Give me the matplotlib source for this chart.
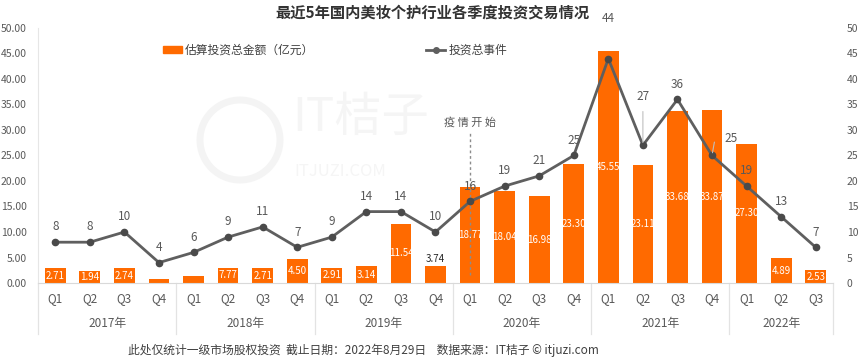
import matplotlib
matplotlib.use("Agg")
import matplotlib.pyplot as plt
from matplotlib.patches import Patch, Ellipse
from matplotlib.lines import Line2D
import matplotlib.transforms as mtransforms

plt.rcParams["font.family"] = ["Noto Sans CJK SC", "DejaVu Sans"]

# data
years = ["2017年", "2018年", "2019年", "2020年", "2021年", "2022年"]
quarters = ["Q1", "Q2", "Q3", "Q4"] * 5 + ["Q1", "Q2", "Q3"]
amount = [2.9, 2.3, 2.9, 0.8, 1.4, 3.0, 2.9, 4.7, 3.0, 3.3, 11.6, 3.3,
          18.8, 18.0, 17.0, 23.3, 45.5, 23.1, 33.7, 33.9, 27.3, 4.9, 2.5]
amount_labels = ["2.71", "1.94", "2.74", "", "", "7.77", "2.71", "4.50", "2.91", "3.14", "11.54", "3.74",
                 "18.77", "18.04", "16.98", "23.30", "45.55", "23.11", "33.68", "33.87", "27.30", "4.89", "2.53"]
events = [8, 8, 10, 4, 6, 9, 11, 7, 9, 14, 14, 10, 16, 19, 21, 25, 44, 27, 36, 25, 19, 13, 7]
year_len = [4, 4, 4, 4, 4, 3]

orange = "#FF6A00"
grey_line = "#5f5f5f"
txt = "#595959"

fig = plt.figure(figsize=(8.65, 3.62), dpi=100)
ax = fig.add_axes([38 / 865, 1 - 283 / 362, 795 / 865, 255 / 362])
ax2 = ax.twinx()

x = list(range(len(amount)))
bars = ax.bar(x, amount, width=0.6, color=orange, zorder=2)
ax.set_xlim(-0.5, len(x) - 0.5)
ax.set_ylim(0, 50)
ax.set_yticks(range(0, 51, 5))
ax.set_yticklabels(["%.2f" % v for v in range(0, 51, 5)])
ax2.set_ylim(0, 50)
ax2.set_yticks(range(0, 51, 5))

for a in (ax, ax2):
    for s in ("top", "right", "left"):
        a.spines[s].set_visible(False)
    a.tick_params(length=0, labelsize=7.5, labelcolor=txt)
ax2.spines["bottom"].set_visible(False)
ax.spines["left"].set_visible(True)
ax.spines["left"].set_color("#e6e6e6")
ax.spines["bottom"].set_color("#d9d9d9")
ax.tick_params(axis="y", pad=8)
ax2.tick_params(axis="y", pad=10)
ax.set_xticks([])

# bar value labels
for i, (b, lab) in enumerate(zip(bars, amount_labels)):
    if not lab:
        continue
    if i == 11:
        ax.text(i, b.get_height() + 0.4, lab, ha="center", va="bottom", fontsize=7, color="#262626", zorder=4)
    else:
        ax.text(i, b.get_height() / 2, lab, ha="center", va="center", fontsize=7, color="white", zorder=4)

# event line
ax2.plot(x, events, color=grey_line, lw=2, marker="o", ms=4.5, mfc="#4a4a4a", mec="#4a4a4a", zorder=3)
ax.set_zorder(ax2.get_zorder() - 1)
ax.patch.set_visible(False)
for i, v in enumerate(events):
    if i == 16:
        ax2.annotate(str(v), (i, v), xytext=(0, 29), textcoords="offset points",
                     ha="center", va="center", fontsize=8.5, color=txt, annotation_clip=False)
    elif i == 17:
        ax2.annotate(str(v), (i, v), xytext=(0, 35), textcoords="offset points",
                     ha="center", va="center", fontsize=8.5, color=txt,
                     arrowprops=dict(arrowstyle="-", color="#bfbfbf", lw=0.8, shrinkA=4, shrinkB=2))
    elif i == 19:
        ax2.annotate(str(v), (i, v), xytext=(14, 12), textcoords="offset points",
                     ha="center", va="center", fontsize=8.5, color=txt,
                     arrowprops=dict(arrowstyle="-", color="#bfbfbf", lw=0.8, shrinkA=6, shrinkB=2,
                                     connectionstyle="angle,angleA=180,angleB=80,rad=0"))
    else:
        ax2.annotate(str(v), (i, v), xytext=(0, 11), textcoords="offset points",
                     ha="center", va="center", fontsize=8.5, color=txt)

# epidemic marker
ax.plot([12, 12], [1.5, 29.5], ls=(0, (2, 2)), color="#8c8c8c", lw=1, zorder=5)
ax.text(12, 31.5, "疫 情 开 始", ha="center", va="center", fontsize=8, color=txt)

# category axis: quarters, years, separators
trans = mtransforms.blended_transform_factory(ax.transData, ax.transAxes)
for i, q in enumerate(quarters):
    ax.text(i, -0.062, q, transform=trans, ha="center", va="center", fontsize=8.5, color=txt)
start = 0
for y, n in zip(years, year_len):
    ax.text(start + (n - 1) / 2, -0.157, y, transform=trans, ha="center", va="center", fontsize=8.5, color=txt)
    ax.add_line(Line2D([start - 0.5, start - 0.5], [0, -0.2], transform=trans, color="#e3e3e3", lw=0.9, clip_on=False))
    start += n
ax.add_line(Line2D([start - 0.5, start - 0.5], [0, -0.2], transform=trans, color="#e3e3e3", lw=0.9, clip_on=False))

# faint watermark
fig.add_artist(Ellipse((240 / 865, 1 - 140 / 362), 80 / 865, 80 / 362, transform=fig.transFigure,
                       fc="none", ec="#f4f4f4", lw=5, zorder=0))
fig.text(292 / 865, 1 - 118 / 362, "IT桔子", fontsize=34, color="#f5f5f5", va="center", zorder=0)
fig.text(294 / 865, 1 - 172 / 362, "ITJUZI.COM", fontsize=12, color="#f5f5f5", va="center", zorder=0)

# title, legend, footer
fig.text(432 / 865, 1 - 13 / 362, "最近5年国内美妆个护行业各季度投资交易情况",
         ha="center", va="center", fontsize=11, fontweight="bold", color="#333333")
handles = [Patch(color=orange, label="估算投资总金额（亿元）"),
           Line2D([], [], color=grey_line, lw=2, marker="o", ms=4, label="投资总事件")]
fig.legend(handles=handles, loc="center left", bbox_to_anchor=(152 / 865, 1 - 50 / 362), ncol=2,
           frameon=False, fontsize=8.5, labelcolor="#404040", columnspacing=9.5,
           handlelength=1.6, handleheight=0.6, handletextpad=0.3)
fig.text(128 / 865, 1 - 350 / 362, "此处仅统计一级市场股权投资  截止日期：2022年8月29日    数据来源：IT桔子 © itjuzi.com",
         ha="left", va="center", fontsize=8.5, color="#404040")

fig.savefig("out.png", dpi=100)
